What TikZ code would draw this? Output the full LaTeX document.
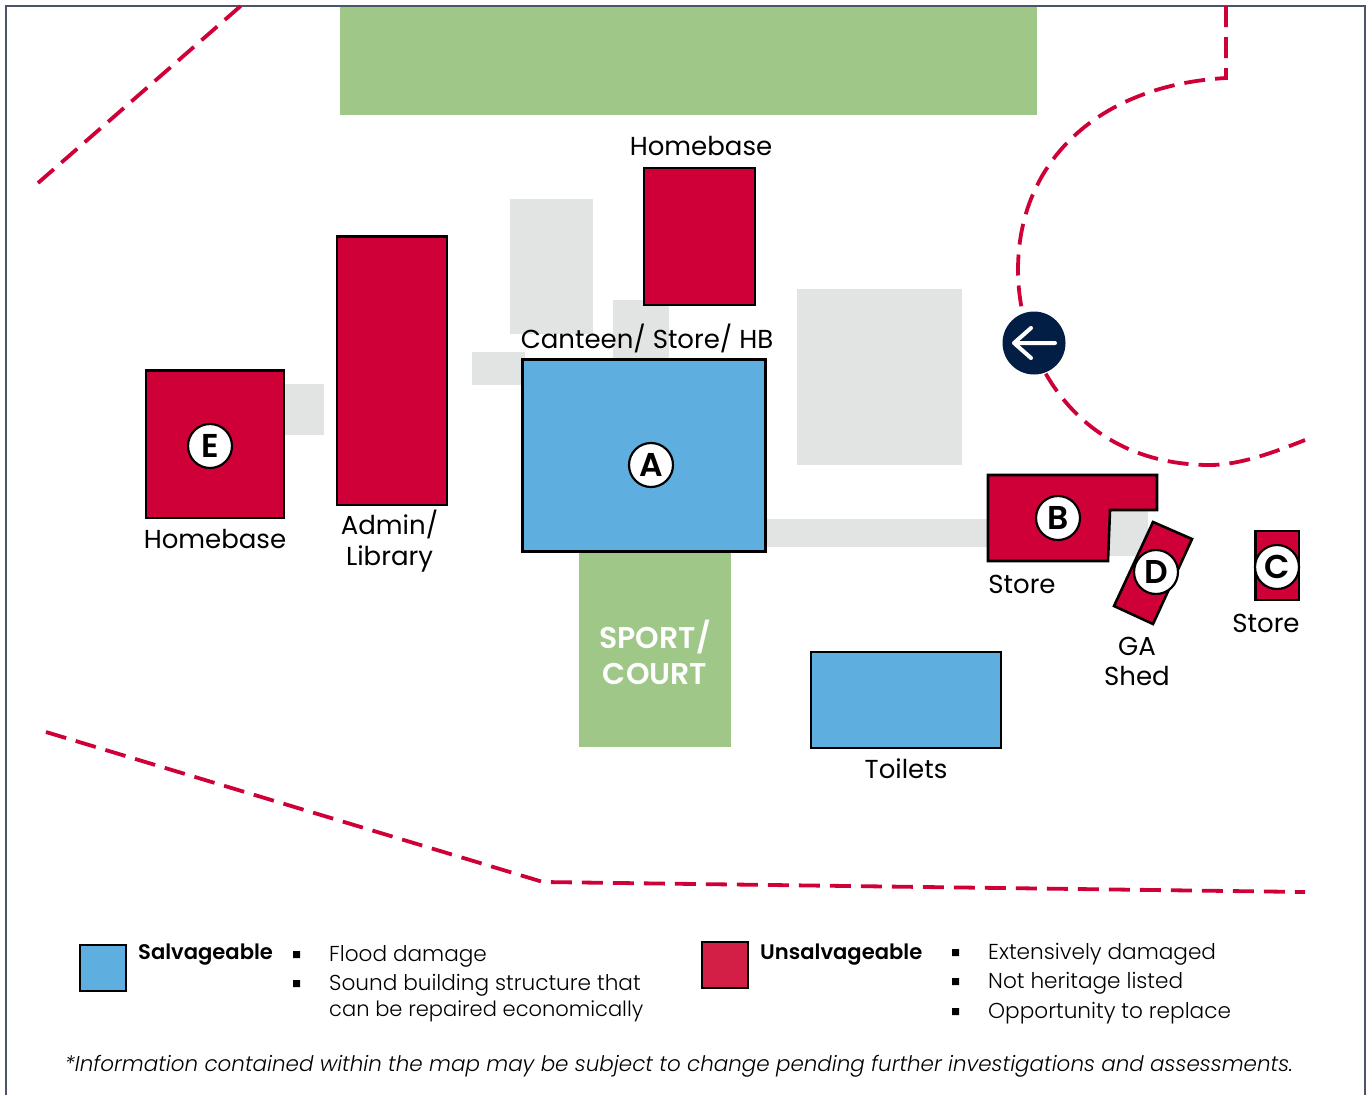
\documentclass[tikz,border=0pt]{standalone}
\usepackage{fontspec}
\setmainfont{Poppins}
\newfontfamily\lightf{Poppins Light}
\newfontfamily\medf{Poppins Medium}
\newfontfamily\semif{Poppins SemiBold}
\definecolor{crim}{HTML}{CE0037}
\definecolor{legcrim}{HTML}{D31F45}
\definecolor{sky}{HTML}{5FAEE0}
\definecolor{leaf}{HTML}{9EC788}
\definecolor{pave}{HTML}{E2E4E3}
\definecolor{navy}{HTML}{031E44}
\definecolor{frame}{HTML}{4A5568}
\tikzset{
  x=1pt,y=-1pt,
  red bld/.style={fill=crim,draw=black,line width=2.6pt,line join=miter},
  blue bld/.style={fill=sky,draw=black,line width=2.2pt},
  boundary/.style={draw=crim,line width=3.8pt,dash pattern=on 21pt off 10pt},
  lbl/.style={font=\fontsize{26}{26}\selectfont,inner sep=0pt,text=black,align=center},
  legtxt/.style={font=\lightf\fontsize{21.6}{21.6}\selectfont,inner sep=0pt,anchor=west,text=black},
  legbold/.style={font=\semif\fontsize{21.1}{21.1}\selectfont,inner sep=0pt,anchor=west,text=black},
  tag/.style={circle,fill=white,draw=black,line width=2.2pt,minimum size=44pt,inner sep=0pt,font=\semif\fontsize{33}{33}\selectfont},
}
\begin{document}
\begin{tikzpicture}
\useasboundingbox (0,0) rectangle (1372,1095);
% paving
\fill[pave] (510,199) rectangle (593,334);
\fill[pave] (613,300) rectangle (669,360);
\fill[pave] (472,352) rectangle (525,385);
\fill[pave] (797,289) rectangle (962,465);
\fill[pave] (280,384) rectangle (324,435);
\fill[pave] (765,519) rectangle (990,547);
\fill[pave] (1105,510) rectangle (1148,556);
% green
\fill[leaf] (340,6) rectangle (1037,115);
\fill[leaf] (579,550) rectangle (731,747);
% frame
\draw[frame,line width=1.4pt] (6,1095) -- (6,6) -- (1365,6) -- (1365,1095);
% boundaries
\draw[boundary] (38,183) -- (243,4);
\draw[boundary] (46,732) -- (543,882) -- (1305,892);
\draw[boundary] (1226,6) -- (1226,78) .. controls (1100,85) and (1018,160) .. (1018,270)
   .. controls (1018,355) and (1075,465) .. (1210,465) .. controls (1240,465) and (1275,452) .. (1305,440);
% buildings
\draw[red bld] (644,168) rectangle (755,305);
\draw[red bld] (337,236.5) rectangle (447,505);
\draw[red bld] (146,370.5) rectangle (284,518);
\draw[blue bld,line width=3pt] (522.5,359.5) rectangle (765.5,551);
\draw[blue bld,line width=1.8pt] (811,652) rectangle (1001,748);
\draw[red bld] (988,475) -- (1157,475) -- (1157,510) -- (1110,510) -- (1108,561) -- (988,561) -- cycle;
\draw[red bld] (1153,522) -- (1192,539) -- (1153,624) -- (1114,606) -- cycle;
\draw[red bld] (1255.5,531) rectangle (1299,600);
% tags
\node[tag] (tA) at (651,465) {A};
\node[tag] (tB) at (1058,518) {B};
\node[tag] (tC) at (1277,567) {C};
\node[tag] (tD) at (1156,572) {D};
\node[tag] (tE) at (210,446) {E};
% labels
\node[lbl] (lh1) at (701,146) {Homebase};
\node[lbl] (lc) at (647,338.5) {Canteen/ Store/ HB};
\node[lbl] (lh2) at (215,539) {Homebase};
\node[lbl,font=\fontsize{26}{31}\selectfont] (la) at (389.5,541) {Admin/\\Library};
\node[lbl] (ls1) at (1022,584) {Store};
\node[lbl] (ls2) at (1266,623) {Store};
\node[lbl,font=\fontsize{26}{30}\selectfont] (lg) at (1137,661) {GA\\Shed};
\node[lbl] (lt) at (906,769) {Toilets};
\node[lbl,text=white,font=\semif\fontsize{30}{36}\selectfont] (ls) at (655,652) {SPORT/\\COURT};
% entry arrow
\node[circle,fill=navy,minimum size=63pt,inner sep=0pt] (ent) at (1034,343) {};
\draw[white,line width=4pt,line cap=round,line join=round] ([xshift=21pt]ent.center) -- ([xshift=-20pt]ent.center)
  ([xshift=-3pt,yshift=-15pt]ent.center) -- ([xshift=-20pt]ent.center) -- ([xshift=-3pt,yshift=15pt]ent.center);
% legend
\draw[fill=sky,draw=black,line width=1.8pt] (80,945) rectangle (126,991);
\draw[fill=legcrim,draw=black,line width=1.8pt] (702,942) rectangle (748,988);
\node[legbold] (k1) at (138,955) {Salvageable};
\node[legbold] (k2) at (760,955) {Unsalvageable};
\fill[black] (293,951) rectangle (300,958) (293,980) rectangle (300,987);
\fill[black] (952,949) rectangle (959,956) (952,978) rectangle (959,985) (952,1008) rectangle (959,1015);
\node[legtxt] (a1) at (329,956) {Flood damage};
\node[legtxt] (a2) at (329,985) {Sound building structure that};
\node[legtxt,font=\lightf\fontsize{21}{21}\selectfont] (a3) at (329,1011) {can be repaired economically};
\node[legtxt] (b1) at (988,954) {Extensively damaged};
\node[legtxt] (b2) at (988,983) {Not heritage listed};
\node[legtxt] (b3) at (988,1013) {Opportunity to replace};
\node[legtxt,font=\lightf\fontsize{21.45}{21.45}\selectfont\itshape,anchor=center] (note) at (679,1066) {*Information contained within the map may be subject to change pending further investigations and assessments.};
\end{tikzpicture}
\end{document}
